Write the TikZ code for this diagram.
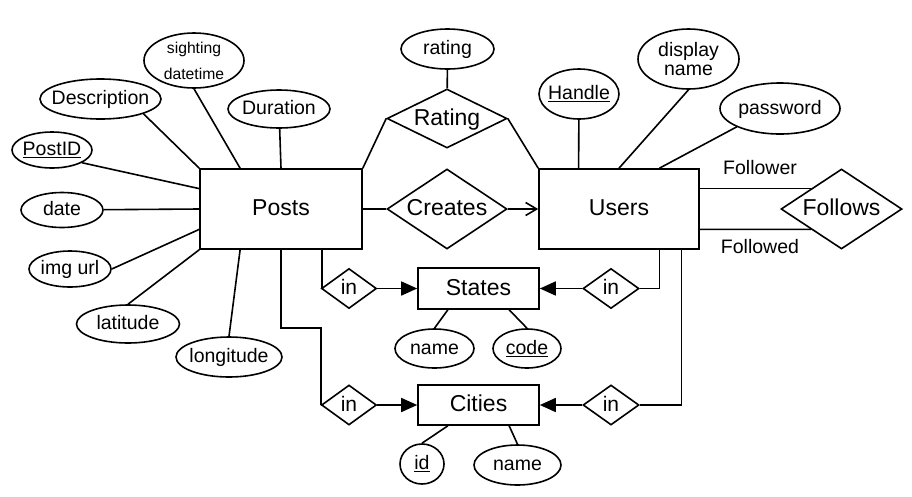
\documentclass[tikz,border=0pt]{standalone}
\usepackage{fontspec}
\setmainfont{Liberation Sans}
\usetikzlibrary{shapes.geometric,arrows.meta,calc}
\tikzset{
  ln/.style={line width=1.6pt},
  ent/.style={draw, line width=1.6pt, rectangle, inner sep=0pt},
  rel/.style={draw, line width=1.6pt, diamond, inner sep=0pt},
  attr/.style={draw, line width=1.6pt, ellipse, inner sep=0pt},
  big/.style={font=\fontsize{23}{27}\selectfont, text height=18.4pt, text depth=4.6pt, inner sep=0pt},
  mid/.style={font=\fontsize{21}{25}\selectfont, text height=16.8pt, text depth=4.2pt, inner sep=0pt},
  small/.style={font=\fontsize{19.5}{23}\selectfont, text height=15.6pt, text depth=3.9pt, inner sep=0pt},
  tiny2/.style={font=\fontsize{15.7}{26}\selectfont, align=center, inner sep=0pt},
  two/.style={font=\fontsize{19.5}{19.5}\selectfont, align=center, inner sep=0pt},
  tri/.style={-{Triangle[length=16pt,width=14pt]}},
  barb/.style={-{Straight Barb[length=11pt,width=13pt]}}
}
\begin{document}
\begin{tikzpicture}[x=1pt,y=-1pt]
\path[use as bounding box, fill=white] (0,0) rectangle (912,496);

% entities
\node[ent, minimum width=162pt, minimum height=80pt, label={[big]center:Posts}] (posts) at (281,209) {};
\node[ent, minimum width=160pt, minimum height=80pt, label={[big]center:Users}] (users) at (619,209) {};
\node[ent, minimum width=121pt, minimum height=41pt, label={[big]center:States}] (states) at (478.5,288.5) {};
\node[ent, minimum width=121pt, minimum height=40pt, label={[big]center:Cities}] (cities) at (478.5,405) {};

% relationships
\node[rel, minimum width=120pt, minimum height=59pt, label={[big]center:Rating}] (ratingrel) at (447,118.5) {};
\node[rel, minimum width=120pt, minimum height=80pt, label={[big]center:Creates}] (creates) at (447,209) {};
\node[rel, minimum width=121pt, minimum height=80pt, label={[big]center:Follows}] (follows) at (841.5,209) {};
\node[rel, minimum width=55pt, minimum height=40pt, label={[mid]center:in}] (instate) at (349,288.5) {};
\node[rel, minimum width=56pt, minimum height=40pt, label={[mid]center:in}] (instate2) at (611,288.5) {};
\node[rel, minimum width=55pt, minimum height=40pt, label={[mid]center:in}] (incity) at (349,405) {};
\node[rel, minimum width=56pt, minimum height=40pt, label={[mid]center:in}] (incity2) at (611,405) {};

% attributes of Posts
\node[attr, minimum width=100pt, minimum height=55pt, label={[tiny2]center:sighting\\datetime}] (sight) at (194,60.5) {};
\node[attr, minimum width=121pt, minimum height=40pt, label={[small]center:Description}] (desc) at (100.5,99) {};
\node[attr, minimum width=102pt, minimum height=38pt, label={[small]center:Duration}] (dur) at (279,109) {};
\node[attr, minimum width=80pt, minimum height=36pt, label={[small]center:\underline{PostID}}] (postid) at (52,150) {};
\node[attr, minimum width=82pt, minimum height=35pt, label={[small]center:date}] (date) at (62,210) {};
\node[attr, minimum width=82pt, minimum height=36pt, label={[small]center:img url}] (imgurl) at (70,269) {};
\node[attr, minimum width=103pt, minimum height=38pt, label={[small]center:latitude}] (lat) at (128,324) {};
\node[attr, minimum width=106pt, minimum height=40pt, label={[small]center:longitude}] (lon) at (229,357) {};

% attributes of Rating and Users
\node[attr, minimum width=93pt, minimum height=40pt, label={[small]center:rating}] (rating) at (447.5,49) {};
\node[attr, minimum width=80pt, minimum height=50pt, label={[small]center:\underline{Handle}}] (handle) at (579,94) {};
\node[attr, minimum width=101pt, minimum height=60pt, label={[two]center:display\\name}] (dispname) at (688.5,59) {};
\node[attr, minimum width=120pt, minimum height=51pt, label={[small]center:password}] (pw) at (780,108.5) {};

% attributes of States and Cities
\node[attr, minimum width=79pt, minimum height=39pt, label={[small]center:name}] (sname) at (434.5,348.5) {};
\node[attr, minimum width=68pt, minimum height=39pt, label={[small]center:\underline{code}}] (code) at (527,348.5) {};
\node[attr, minimum width=44pt, minimum height=40pt, label={[small]center:\underline{id}}] (cid) at (422,464) {};
\node[attr, minimum width=87pt, minimum height=40pt, label={[small]center:name}] (cname) at (517.5,465) {};

% role labels
\node[small] (fwr) at (760,169) {Follower};
\node[small] (fwd) at (760,248) {Followed};

% Posts attribute lines
\draw[ln] (desc.-19) -- (posts.north west);
\draw[ln] (sight.south) -- ($(posts.north west)!0.25!(posts.north east)$);
\draw[ln] (dur) -- (posts.north);
\draw[ln] (postid.-23) -- ($(posts.north west)!0.25!(posts.south west)$);
\draw[ln] (date) -- (posts.west);
\draw[ln] (imgurl.east) -- ($(posts.north west)!0.75!(posts.south west)$);
\draw[ln] (lat.north) -- (posts.south west);
\draw[ln] (lon.north) -- ($(posts.south west)!0.25!(posts.south east)$);

% Users attribute lines
\draw[ln] (handle) -- ($(users.north west)!0.25!(users.north east)$);
\draw[ln] (dispname.south) -- (users.north);
\draw[ln] (pw.203) -- ($(users.north west)!0.75!(users.north east)$);

% Rating
\draw[ln] (rating) -- (ratingrel);
\draw[ln] (ratingrel.west) -- (posts.north east);
\draw[ln] (ratingrel.east) -- (users.north west);

% Creates
\draw[ln] (posts.east) -- (creates.west);
\draw[ln, barb] (creates.east) -- (users.west);

% Follows
\draw[ln] ($(users.north east)!0.25!(users.south east)$) -- ($(follows.west)!0.5!(follows.north)$);
\draw[ln] ($(users.north east)!0.75!(users.south east)$) -- ($(follows.west)!0.5!(follows.south)$);

% States
\draw[ln] ($(posts.south west)!0.75!(posts.south east)$) |- (instate.west);
\draw[ln, tri] (instate.east) -- (states.west);
\draw[ln, tri] (instate2.west) -- (states.east);
\draw[ln] (instate2.east) -| ($(users.south west)!0.75!(users.south east)$);

% Cities
\coordinate (bend) at (321,328);
\draw[ln] (posts.south) |- (bend) |- (incity.west);
\draw[ln, tri] (incity.east) -- (cities.west);
\draw[ln, tri] (incity2.west) -- (cities.east);
\draw[ln] (incity2.east) -| ($(users.south west)!0.8875!(users.south east)$);

% States / Cities attributes
\draw[ln] ($(states.south west)!0.25!(states.south east)$) -- (sname.north);
\draw[ln] ($(states.south west)!0.75!(states.south east)$) -- (code.north);
\draw[ln] ($(cities.south west)!0.25!(cities.south east)$) -- (cid.north);
\draw[ln] ($(cities.south west)!0.75!(cities.south east)$) -- (cname.north);
\end{tikzpicture}
\end{document}
